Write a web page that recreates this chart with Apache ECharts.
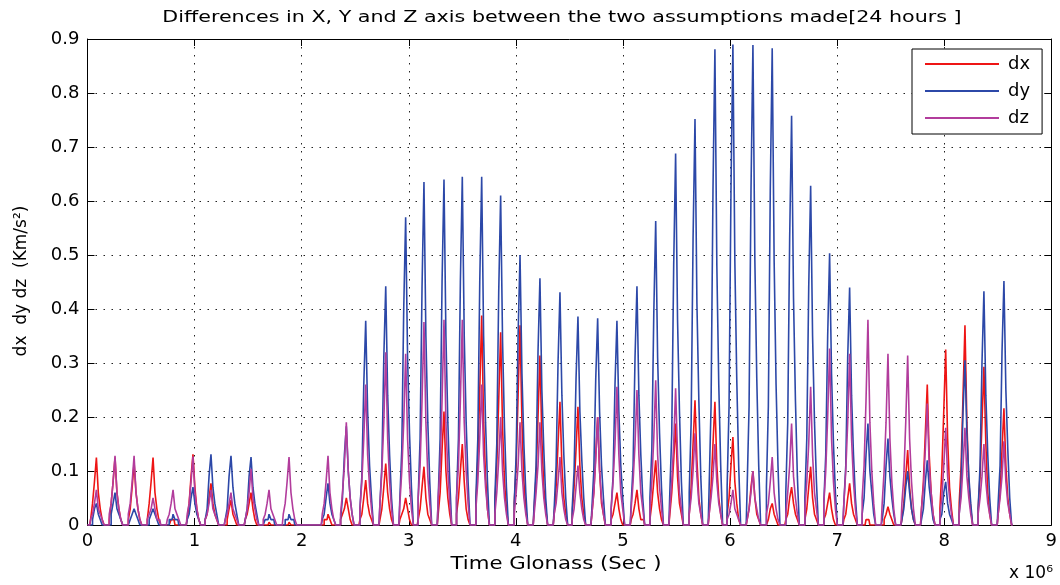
<!DOCTYPE html>
<html><head><meta charset="utf-8">
<script src="https://cdn.jsdelivr.net/npm/echarts@6/dist/echarts.min.js"></script>
<style>html,body{margin:0;padding:0;background:#fff}#c{width:1060px;height:585px}</style>
</head><body><div id="c"></div>
<script>
// Time of each activity burst (units of 10^6 s)
const peakTimes = [0.092,0.266,0.444,0.621,0.808,0.994,1.162,1.349,1.536,1.704,1.891,2.255,2.426,2.607,2.794,2.980,3.151,3.338,3.509,3.690,3.867,4.048,4.234,4.421,4.589,4.773,4.953,5.140,5.315,5.501,5.682,5.868,6.036,6.223,6.403,6.584,6.762,6.939,7.126,7.297,7.484,7.668,7.851,8.023,8.203,8.380,8.567];
// spacing between the samples of one burst (10^6 s); samples run from -4 to +4 steps around each burst time
const sampleStep = 0.018;
const recordStart = 0, recordEnd = 8.64;

// dx (Km/s^2) samples for each burst
const dxBursts = [
[0,.01,.04,.08,.125,.06,.03,.01,0],[0,.01,.04,.08,.125,.06,.03,.01,0],[0,.01,.03,.07,.115,.06,.03,.01,0],[0,.01,.04,.08,.125,.06,.03,.01,0],
[0,0,0,.01,.01,0,0,0,0],[0,.01,.04,.09,.131,.07,.03,.01,0],[0,.01,.02,.05,.077,.04,.02,.01,0],[0,0,.01,.03,.046,.02,.01,0,0],
[0,.01,.02,.04,.06,.03,.01,0,0],[0,0,0,0,.005,0,0,0,0],[0,0,0,0,.005,0,0,0,0],[0,0,.01,.01,.02,.01,0,0,0],
[0,.01,.02,.03,.05,.03,.01,0,0],[0,.01,.02,.05,.083,.04,.02,.01,0],[0,.01,.03,.07,.114,.06,.03,.01,0],[0,.01,.02,.03,.05,.03,.01,0,0],
[0,.01,.03,.07,.108,.05,.02,.01,0],[0,.02,.06,.14,.21,.1,.05,.02,0],[0,.02,.05,.1,.15,.08,.03,.01,0],[0,.04,.12,.25,.388,.19,.09,.03,0],
[0,.04,.11,.23,.357,.18,.08,.03,0],[0,.04,.11,.24,.37,.19,.08,.03,0],[0,.03,.09,.2,.314,.16,.07,.03,0],[0,.02,.07,.15,.228,.11,.05,.02,0],
[0,.02,.07,.14,.219,.11,.05,.02,0],[0,.02,.06,.13,.2,.1,.04,.02,0],[0,.01,.02,.04,.06,.03,.01,0,0],[0,.01,.02,.04,.065,.03,.01,.01,0],
[0,.01,.04,.08,.12,.06,.03,.01,0],[0,.02,.06,.12,.188,.09,.04,.02,0],[0,.02,.07,.15,.231,.12,.05,.02,0],[0,.02,.07,.15,.228,.11,.05,.02,0],
[0,.02,.05,.11,.163,.08,.04,.01,0],[0,.01,.03,.07,.1,.05,.02,.01,0],[0,0,.01,.03,.04,.02,.01,0,0],[0,.01,.02,.05,.07,.04,.02,.01,0],
[0,.01,.03,.07,.108,.05,.02,.01,0],[0,.01,.02,.04,.06,.03,.01,0,0],[0,.01,.02,.05,.077,.04,.02,.01,0],[0,0,0,.01,.01,0,0,0,0],
[0,0,.01,.02,.034,.02,.01,0,0],[0,.01,.04,.09,.139,.07,.03,.01,0],[0,.03,.08,.17,.26,.13,.06,.02,0],[0,.03,.1,.21,.325,.16,.07,.03,0],
[0,.04,.11,.24,.37,.19,.08,.03,0],[0,.03,.09,.19,.293,.15,.06,.02,0],[0,.02,.06,.14,.216,.11,.05,.02,0]
];
// dy (Km/s^2) samples for each burst
const dyBursts = [
[0,0,.01,.03,.04,.02,.01,0,0],[0,0,.02,.04,.06,.03,.02,.01,0],[0,0,.01,.02,.03,.02,.01,0,0],[0,0,.01,.02,.03,.02,.01,0,0],
[0,0,.01,.01,.02,.01,.01,0,0],[0,.01,.02,.05,.07,.04,.02,.01,0],[0,.01,.03,.09,.131,.07,.04,.02,0],[0,.01,.03,.09,.128,.07,.04,.02,0],
[0,.01,.03,.09,.126,.07,.04,.02,0],[0,0,.01,.01,.02,.01,.01,0,0],[0,0,.01,.01,.02,.01,.01,0,0],[0,.01,.02,.05,.077,.04,.02,.01,0],
[0,.01,.05,.13,.183,.1,.05,.02,0],[0,.03,.09,.26,.378,.21,.11,.05,0],[0,.04,.11,.31,.442,.24,.13,.05,0],[0,.05,.14,.4,.57,.31,.17,.07,0],
[0,.05,.16,.44,.635,.35,.19,.08,0],[0,.05,.16,.45,.64,.35,.19,.08,0],[0,.05,.16,.45,.645,.35,.19,.08,0],[0,.05,.16,.45,.645,.35,.19,.08,0],
[0,.05,.15,.43,.61,.34,.18,.07,0],[0,.04,.13,.35,.5,.28,.15,.06,0],[0,.04,.11,.32,.457,.25,.14,.05,0],[0,.03,.11,.3,.431,.24,.13,.05,0],
[0,.03,.1,.27,.386,.21,.12,.05,0],[0,.03,.1,.27,.383,.21,.11,.05,0],[0,.03,.09,.26,.378,.21,.11,.05,0],[0,.04,.11,.31,.442,.24,.13,.05,0],
[0,.05,.14,.39,.563,.31,.17,.07,0],[0,.06,.17,.48,.688,.38,.21,.08,0],[0,.06,.19,.53,.752,.41,.23,.09,0],[0,.07,.22,.62,.881,.48,.26,.11,0],
[0,.07,.22,.62,.89,.49,.27,.11,0],[0,.07,.22,.62,.889,.49,.27,.11,0],[0,.07,.22,.62,.883,.49,.26,.11,0],[0,.06,.19,.53,.758,.42,.23,.09,0],
[0,.05,.16,.44,.628,.35,.19,.08,0],[0,.04,.13,.35,.503,.28,.15,.06,0],[0,.04,.11,.31,.44,.24,.13,.05,0],[0,.02,.05,.13,.188,.1,.06,.02,0],
[0,.01,.04,.11,.16,.09,.05,.02,0],[0,.01,.03,.07,.1,.06,.03,.01,0],[0,.01,.03,.08,.12,.07,.04,.01,0],[0,.01,.02,.06,.08,.04,.02,.01,0],
[0,.02,.08,.21,.305,.17,.09,.04,0],[0,.03,.11,.3,.433,.24,.13,.05,0],[0,.04,.11,.32,.452,.25,.14,.05,0]
];
// dz (Km/s^2) samples for each burst
const dzBursts = [
[0,.01,.02,.04,.065,.03,.02,.01,0],[0,.02,.04,.08,.128,.06,.03,.01,0],[0,.02,.04,.08,.128,.06,.03,.01,0],[0,.01,.02,.03,.05,.03,.01,.01,0],
[0,.01,.02,.04,.065,.03,.02,.01,0],[0,.02,.04,.08,.127,.06,.03,.01,0],[0,.01,.02,.04,.065,.03,.02,.01,0],[0,.01,.02,.04,.06,.03,.02,.01,0],
[0,.01,.03,.06,.104,.05,.03,.01,0],[0,.01,.02,.04,.065,.03,.02,.01,0],[0,.02,.04,.08,.126,.06,.03,.01,0],[0,.02,.04,.08,.128,.06,.03,.01,0],
[0,.02,.06,.11,.19,.1,.05,.02,0],[0,.03,.08,.16,.26,.13,.07,.03,0],[0,.04,.1,.19,.32,.16,.08,.03,0],[0,.04,.1,.19,.317,.16,.08,.03,0],
[0,.05,.11,.23,.376,.19,.09,.04,0],[0,.05,.11,.23,.38,.19,.1,.04,0],[0,.05,.11,.23,.38,.19,.1,.04,0],[0,.03,.08,.16,.26,.13,.07,.03,0],
[0,.02,.06,.12,.2,.1,.05,.02,0],[0,.02,.06,.11,.19,.1,.05,.02,0],[0,.02,.06,.11,.19,.1,.05,.02,0],[0,.02,.04,.08,.126,.06,.03,.01,0],
[0,.01,.03,.07,.11,.06,.03,.01,0],[0,.02,.06,.12,.2,.1,.05,.02,0],[0,.03,.08,.15,.256,.13,.06,.03,0],[0,.03,.08,.15,.25,.13,.06,.03,0],
[0,.03,.08,.16,.268,.13,.07,.03,0],[0,.03,.08,.15,.253,.13,.06,.03,0],[0,.02,.05,.1,.17,.09,.04,.02,0],[0,.02,.05,.09,.15,.08,.04,.02,0],
[0,.01,.02,.04,.065,.03,.02,.01,0],[0,.01,.03,.06,.1,.05,.03,.01,0],[0,.02,.04,.08,.126,.06,.03,.01,0],[0,.02,.06,.11,.188,.09,.05,.02,0],
[0,.03,.08,.15,.256,.13,.06,.03,0],[0,.04,.1,.2,.327,.16,.08,.03,0],[0,.04,.1,.19,.317,.16,.08,.03,0],[0,.05,.11,.23,.38,.19,.1,.04,0],
[0,.04,.1,.19,.317,.16,.08,.03,0],[0,.04,.09,.19,.314,.16,.08,.03,0],[0,.03,.07,.14,.225,.11,.06,.02,0],[0,.02,.05,.11,.18,.09,.05,.02,0],
[0,.02,.05,.11,.18,.09,.05,.02,0],[0,.02,.05,.09,.15,.08,.04,.02,0],[0,.02,.05,.09,.155,.08,.04,.02,0]
];

const seriesNames = ['dx','dy','dz'];
const seriesColors = ['#ee1515','#2c48a8','#b23c9c'];
const xTickMin = 0, xTickMax = 9, xTickStep = 1;
const yTickMin = 0, yTickMax = 0.9, yTickStep = 0.1;
const titleText = 'Differences in X, Y and Z axis between the two assumptions made[24 hours ]';
const xName = 'Time Glonass (Sec )';
const yName = 'dx  dy dz  (Km/s²)';
const xExponent = 'x 10⁶';

function toPoints(bursts){
  const pts = [[recordStart, 0]];
  bursts.forEach((vals, i) => {
    vals.forEach((v, j) => pts.push([peakTimes[i] + (j - 4) * sampleStep, v]));
  });
  pts.push([recordEnd, 0]);
  return pts;
}

const FONT = 'DejaVu Sans';
const chart = echarts.init(document.getElementById('c'), null, {renderer:'canvas'});
const dotted = {color:'#222', width:1, type:[1.5,6.5]};
const axisLine = {show:true, onZero:false, lineStyle:{color:'#000', width:1}};
const tick = {show:true, inside:true, length:7, lineStyle:{color:'#000', width:1}};
chart.setOption({
  animation:false,
  backgroundColor:'#fff',
  grid:{left:87.5, right:8.5, top:39, bottom:60, containLabel:false},
  xAxis:[
    {type:'value', min:xTickMin, max:xTickMax, interval:xTickStep, position:'bottom',
     axisLine:axisLine, axisTick:tick,
     axisLabel:{fontFamily:FONT, fontSize:18, color:'#000', margin:7},
     splitLine:{show:true, lineStyle:dotted}},
    {type:'value', min:xTickMin, max:xTickMax, interval:xTickStep, position:'top',
     axisLine:axisLine, axisTick:tick, axisLabel:{show:false}, splitLine:{show:false}}
  ],
  yAxis:[
    {type:'value', min:yTickMin, max:yTickMax, interval:yTickStep, position:'left',
     axisLine:axisLine, axisTick:tick,
     axisLabel:{fontFamily:FONT, fontSize:18, color:'#000', margin:8},
     splitLine:{show:true, lineStyle:dotted}},
    {type:'value', min:yTickMin, max:yTickMax, interval:yTickStep, position:'right',
     axisLine:axisLine, axisTick:tick, axisLabel:{show:false}, splitLine:{show:false}}
  ],
  legend:{
    left:912, top:49, orient:'vertical', data:seriesNames, icon:'rect',
    itemWidth:74, itemHeight:2, itemGap:7, padding:[5,12,6,13],
    borderColor:'#000', borderWidth:1, backgroundColor:'#fff',
    textStyle:{fontFamily:FONT, fontSize:18, color:'#000', lineHeight:20, padding:[0,0,0,4]}
  },
  series:[dxBursts, dyBursts, dzBursts].map((b, k) => ({
    name:seriesNames[k], type:'line', xAxisIndex:0, yAxisIndex:0, step:'middle',
    data:toPoints(b), showSymbol:false, symbol:'none',
    lineStyle:{color:seriesColors[k], width:1.6}, itemStyle:{color:seriesColors[k]},
    z:2+k
  })),
  graphic:[
    {type:'text', x:562, y:18, scaleX:1.29, z:10,
     style:{text:titleText, fontFamily:FONT, fontSize:16, fill:'#000', align:'center', verticalAlign:'middle', textAlign:'center', textVerticalAlign:'middle'}},
    {type:'text', x:556, y:565, scaleX:1.25, z:10,
     style:{text:xName, fontFamily:FONT, fontSize:17, fill:'#000', align:'center', verticalAlign:'middle', textAlign:'center', textVerticalAlign:'middle'}},
    {type:'text', x:22, y:281, rotation:Math.PI/2, z:10,
     style:{text:yName, fontFamily:FONT, fontSize:17, fill:'#000', align:'center', verticalAlign:'middle', textAlign:'center', textVerticalAlign:'middle'}},
    {type:'text', x:1053, y:574, z:10,
     style:{text:xExponent, fontFamily:FONT, fontSize:17, fill:'#000', align:'right', verticalAlign:'middle', textAlign:'right', textVerticalAlign:'middle'}}
  ]
});
</script></body></html>
